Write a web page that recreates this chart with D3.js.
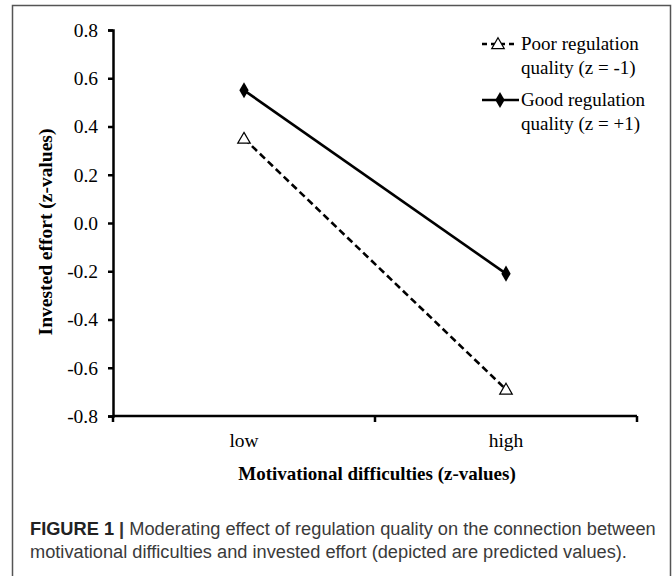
<!DOCTYPE html>
<html>
<head>
<meta charset="utf-8">
<script src="https://cdn.jsdelivr.net/npm/d3@7"></script>
<style>
  html, body { margin: 0; padding: 0; background: #fff; }
  svg { display: block; }
</style>
</head>
<body>
<svg id="chart" width="672" height="576"></svg>
<script>
// ---- data ----
const categories = ["low", "high"];
const poorValues = [0.35, -0.69];
const goodValues = [0.55, -0.21];
const yTicks = [0.8, 0.6, 0.4, 0.2, 0.0, -0.2, -0.4, -0.6, -0.8];
const seriesNames = ["Poor regulation", "Good regulation"];
const seriesSub = ["quality (z = -1)", "quality (z = +1)"];
const xTitle = "Motivational difficulties (z-values)";
const yTitle = "Invested effort (z-values)";
const captionBold = "FIGURE 1";
const captionLine1 = " Moderating effect of regulation quality on the connection between";
const captionLine2 = "motivational difficulties and invested effort (depicted are predicted values).";

const svg = d3.select("#chart");
const serif = "'Liberation Serif', 'Times New Roman', serif";
const sans = "'Liberation Sans', Arial, Helvetica, sans-serif";

// frame
svg.append("rect").attr("x", 12.5).attr("y", 5.5).attr("width", 658).attr("height", 620)
  .attr("fill", "none").attr("stroke", "#555").attr("stroke-width", 1.5);

const x = d3.scaleBand().domain(categories).range([113, 637]).padding(0);
const y = d3.scaleLinear().domain([-0.8, 0.8]).range([416, 30]);

// y axis
const yAxis = d3.axisLeft(y).tickValues(yTicks).tickFormat(d3.format(".1f")).tickSize(5).tickPadding(10);
const gy = svg.append("g").attr("transform", "translate(113,0)").call(yAxis);
gy.select(".domain").attr("stroke", "#000").attr("stroke-width", 2.5);
gy.selectAll(".tick line").attr("stroke", "#000").attr("stroke-width", 2.5);
gy.selectAll(".tick text").attr("font-family", serif).attr("font-size", 19.5).attr("fill", "#000")
  .text(d => d3.format(".1f")(d).replace("−", "-"));

// x axis
const xAxis = d3.axisBottom(x).tickSize(0).tickPadding(17);
const gx = svg.append("g").attr("transform", `translate(0,${y(-0.8)})`).call(xAxis);
gx.select(".domain").remove();
gx.append("line").attr("x1", x.range()[0]).attr("x2", x.range()[1]).attr("y1", 0).attr("y2", 0)
  .attr("stroke", "#000").attr("stroke-width", 2.5);
const edges = [x(categories[0]), x(categories[1]), x(categories[1]) + x.bandwidth()];
gx.selectAll("line.edge").data(edges).enter().append("line").attr("class", "edge")
  .attr("x1", d => d).attr("x2", d => d).attr("y1", 0).attr("y2", 6)
  .attr("stroke", "#000").attr("stroke-width", 2.5);
gx.selectAll(".tick text").attr("font-family", serif).attr("font-size", 19.5).attr("fill", "#000");

// titles
svg.append("text").attr("x", 377).attr("y", 480).attr("text-anchor", "middle")
  .attr("font-family", serif).attr("font-weight", "bold").attr("font-size", 19).text(xTitle);
svg.append("text").attr("transform", "translate(52,232) rotate(-90)").attr("text-anchor", "middle")
  .attr("font-family", serif).attr("font-weight", "bold").attr("font-size", 19.5).text(yTitle);

const cx = d => x(d) + x.bandwidth() / 2;
const line = d3.line().x(d => cx(d.c)).y(d => y(d.v));
const poor = categories.map((c, i) => ({ c, v: poorValues[i] }));
const good = categories.map((c, i) => ({ c, v: goodValues[i] }));

svg.append("path").datum(poor).attr("d", line).attr("fill", "none").attr("stroke", "#000")
  .attr("stroke-width", 2.6).attr("stroke-dasharray", "7,4");
svg.append("path").datum(good).attr("d", line).attr("fill", "none").attr("stroke", "#000")
  .attr("stroke-width", 2.6);

const tri = d3.symbol().type(d3.symbolTriangle).size(68);
const dia = d3.symbol().type(d3.symbolDiamond).size(75);

svg.selectAll("path.tri").data(poor).enter().append("path").attr("class", "tri")
  .attr("d", tri).attr("transform", d => `translate(${cx(d.c)},${y(d.v) + 1})`)
  .attr("fill", "#fff").attr("stroke", "#000").attr("stroke-width", 1.2);
svg.selectAll("path.dia").data(good).enter().append("path").attr("class", "dia")
  .attr("d", dia).attr("transform", d => `translate(${cx(d.c)},${y(d.v)})`)
  .attr("fill", "#000");

// legend
const lg = svg.append("g");
const legY = [44, 100];
// poor
lg.append("line").attr("x1", 482).attr("x2", 514).attr("y1", legY[0]).attr("y2", legY[0])
  .attr("stroke", "#000").attr("stroke-width", 2.6).attr("stroke-dasharray", "5,4,14,4,5");
lg.append("path").attr("d", tri).attr("transform", `translate(498,${legY[0] + 1})`)
  .attr("fill", "#fff").attr("stroke", "#000").attr("stroke-width", 1.2);
// good
lg.append("line").attr("x1", 482).attr("x2", 519).attr("y1", legY[1]).attr("y2", legY[1])
  .attr("stroke", "#000").attr("stroke-width", 2.6);
lg.append("path").attr("d", dia).attr("transform", `translate(500,${legY[1]})`).attr("fill", "#000");
legY.forEach((ly, i) => {
  lg.append("text").attr("x", 521).attr("y", ly + 6).attr("font-family", serif).attr("font-size", 19)
    .text(seriesNames[i]);
  lg.append("text").attr("x", 521).attr("y", ly + 30).attr("font-family", serif).attr("font-size", 19)
    .text(seriesSub[i]);
});

// caption (taller, condensed look: render larger, squeeze horizontally to the figure width)
const capG = svg.append("g");
const cap1 = capG.append("text").attr("x", 0).attr("y", 0).attr("font-family", sans)
  .attr("font-size", 19).attr("fill", "#3a3a3a");
cap1.append("tspan").attr("font-weight", "bold").attr("fill", "#222").text(captionBold);
cap1.append("tspan").attr("font-weight", "bold").attr("fill", "#333").text(" |");
cap1.append("tspan").text(captionLine1);
const cap2 = capG.append("text").attr("x", 0).attr("y", 23).attr("font-family", sans)
  .attr("font-size", 19).attr("fill", "#3a3a3a").text(captionLine2);
const w1 = cap1.node().getComputedTextLength();
const f = 626 / w1;
capG.attr("transform", `translate(30,535) scale(${f},1)`);
</script>
</body>
</html>
